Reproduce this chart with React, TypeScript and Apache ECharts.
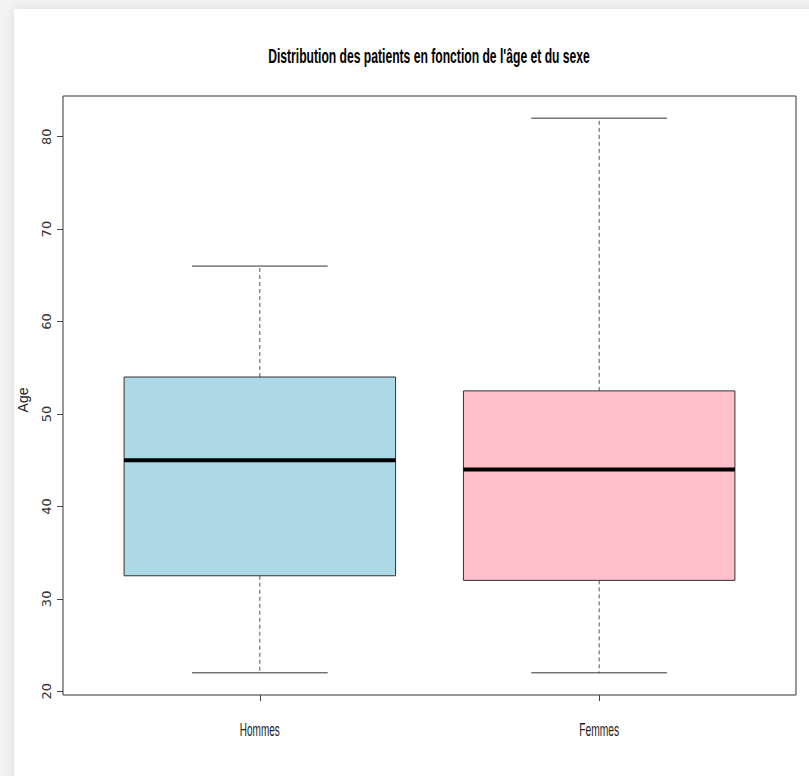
import React, { useEffect, useRef } from "react";
import * as echarts from "echarts";

const categories = ["Hommes", "Femmes"];
const positions = [1, 2];
const minVals = [22, 22];
const q1Vals = [32.5, 32];
const medianVals = [45, 44];
const q3Vals = [54, 52.5];
const maxVals = [66, 82];
const fillColors = ["#ADD8E6", "#FFC0CB"];
const yTicks = [20, 30, 40, 50, 60, 70, 80];
const titleText = "Distribution des patients en fonction de l'âge et du sexe";
const yAxisName = "Age";

function measure(text: string, font: string): number {
  const c = document.createElement("canvas");
  const ctx = c.getContext("2d");
  if (!ctx) return text.length * 8;
  ctx.font = font;
  return ctx.measureText(text).width;
}

export default function App() {
  const ref = useRef<HTMLDivElement>(null);
  useEffect(() => {
    if (!ref.current) return;
    const chart = echarts.init(ref.current, undefined, { renderer: "svg" });
    const data = positions.map((p, i) => [p, minVals[i], q1Vals[i], medianVals[i], q3Vals[i], maxVals[i], i]);
    const titleFont = "bold 21px 'Liberation Sans', sans-serif";
    const labelFont = "18px 'Liberation Sans', sans-serif";
    const titleScale = 322 / measure(titleText, titleFont);
    chart.setOption({
      animation: false,
      backgroundColor: "#f3f3f3",
      grid: {
        left: 63,
        right: 13,
        top: 96,
        bottom: 81,
        show: true,
        borderColor: "#333",
        borderWidth: 1,
        backgroundColor: "transparent",
      },
      xAxis: {
        type: "value",
        min: 0.42,
        max: 2.58,
        splitLine: { show: false },
        axisLine: { show: false },
        axisTick: { show: true, length: 6, customValues: positions, lineStyle: { color: "#444" } },
        axisLabel: { show: false },
      },
      yAxis: {
        type: "value",
        min: 19.6,
        max: 84.4,
        splitLine: { show: false },
        axisLine: { show: false },
        axisTick: { show: true, length: 6, customValues: yTicks, lineStyle: { color: "#444" } },
        axisLabel: {
          customValues: yTicks,
          rotate: 90,
          margin: 10,
          color: "#333",
          fontSize: 13,
          fontFamily: "'DejaVu Sans', sans-serif",
        },
      },
      series: [
        {
          type: "custom",
          data,
          renderItem: (params: any, api: any) => {
            const x = api.value(0);
            const idx = api.value(6);
            const pMin = api.coord([x, api.value(1)]);
            const pQ1 = api.coord([x, api.value(2)]);
            const pMed = api.coord([x, api.value(3)]);
            const pQ3 = api.coord([x, api.value(4)]);
            const pMax = api.coord([x, api.value(5)]);
            const left = api.coord([x - 0.4, 0])[0];
            const right = api.coord([x + 0.4, 0])[0];
            const capL = api.coord([x - 0.2, 0])[0];
            const capR = api.coord([x + 0.2, 0])[0];
            const dashed = { stroke: "#555", lineWidth: 1, lineDash: [4, 3] };
            const solid = { stroke: "#333", lineWidth: 1 };
            return {
              type: "group",
              children: [
                { type: "line", shape: { x1: pQ3[0], y1: pQ3[1], x2: pMax[0], y2: pMax[1] }, style: dashed },
                { type: "line", shape: { x1: pQ1[0], y1: pQ1[1], x2: pMin[0], y2: pMin[1] }, style: dashed },
                { type: "line", shape: { x1: capL, y1: pMax[1], x2: capR, y2: pMax[1] }, style: solid },
                { type: "line", shape: { x1: capL, y1: pMin[1], x2: capR, y2: pMin[1] }, style: solid },
                {
                  type: "rect",
                  shape: { x: left, y: pQ3[1], width: right - left, height: pQ1[1] - pQ3[1] },
                  style: { fill: fillColors[idx], stroke: "#333", lineWidth: 1 },
                },
                { type: "line", shape: { x1: left, y1: pMed[1], x2: right, y2: pMed[1] }, style: { stroke: "#000", lineWidth: 4 } },
              ],
            };
          },
        },
      ],
    });

    const bottomY = chart.convertToPixel({ yAxisIndex: 0 }, 19.6) as number;
    const catLabels = categories.map((c, i) => {
      const px = chart.convertToPixel({ xAxisIndex: 0 }, positions[i]) as number;
      const w = measure(c, labelFont);
      return {
        type: "text",
        x: px,
        y: bottomY + 35,
        scaleX: 40 / w,
        z: 10,
        style: {
          text: c,
          font: labelFont,
          fill: "#222",
          textAlign: "center",
          textVerticalAlign: "middle",
        },
      };
    });

    chart.setOption({
      graphic: [
        {
          type: "rect",
          z: -10,
          silent: true,
          shape: { x: 14, y: 9, width: 820, height: 800 },
          style: { fill: "#ffffff", shadowBlur: 10, shadowColor: "rgba(0,0,0,0.10)" },
        },
        {
          type: "text",
          x: 429,
          y: 56,
          scaleX: titleScale,
          z: 10,
          style: {
            text: titleText,
            font: titleFont,
            fill: "#000",
            textAlign: "center",
            textVerticalAlign: "middle",
          },
        },
        {
          type: "text",
          x: 23,
          y: 400,
          rotation: Math.PI / 2,
          z: 10,
          style: {
            text: yAxisName,
            font: "14px 'Liberation Sans', sans-serif",
            fill: "#222",
            textAlign: "center",
            textVerticalAlign: "middle",
          },
        },
        ...catLabels,
      ],
    });
    return () => chart.dispose();
  }, []);
  return (
    <div
      ref={ref}
      style={{ position: "absolute", left: 0, top: 0, width: 809, height: 776 }}
    />
  );
}
